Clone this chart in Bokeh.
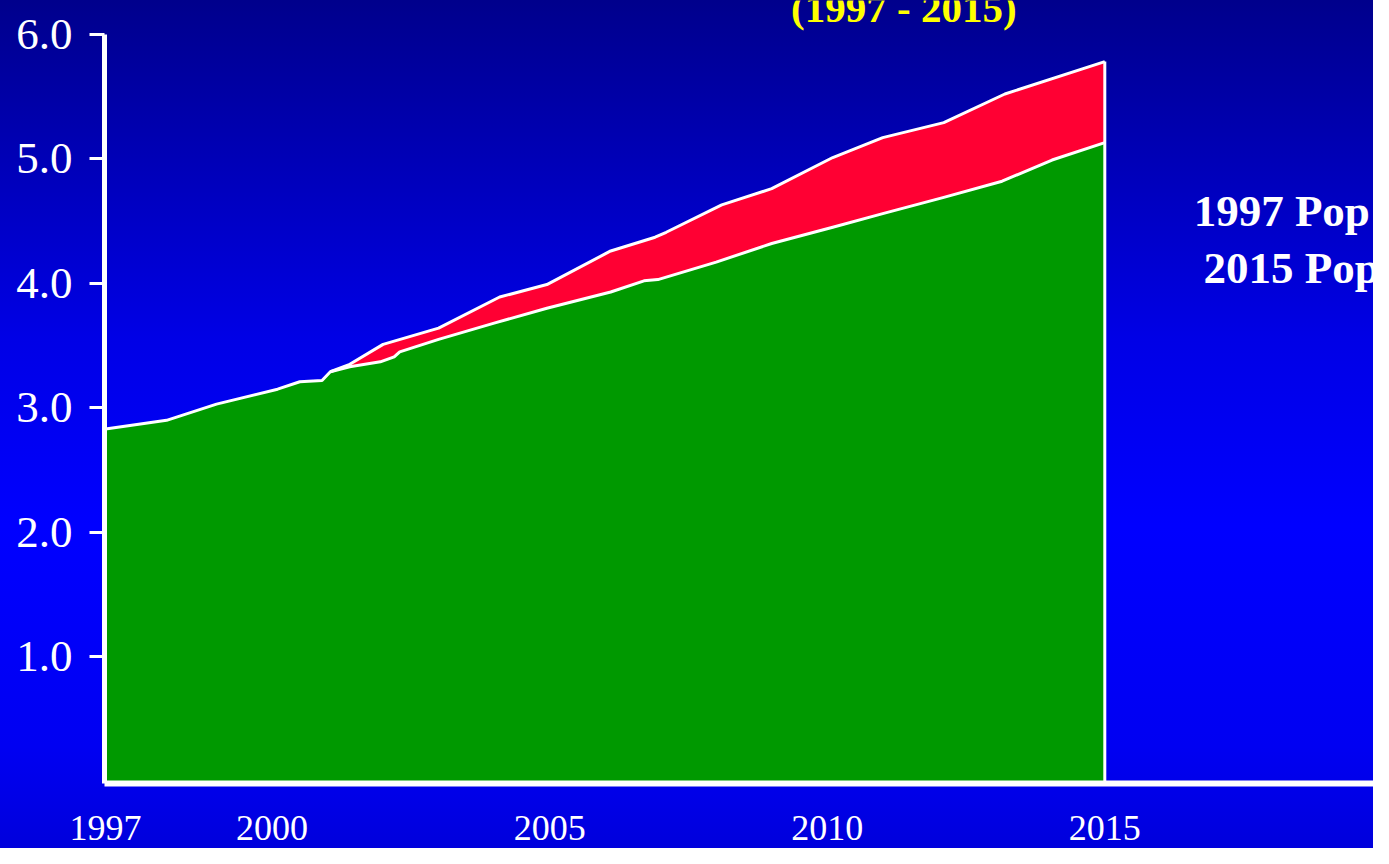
from bokeh.plotting import figure
from bokeh.models import Range1d, FixedTicker, PrintfTickFormatter, Label
from bokeh.embed import file_html
from bokeh.resources import INLINE

# ---- data ----
years_base = [1997, 1998.1, 1999.0, 2000.1, 2000.5, 2000.9, 2001.05, 2001.4, 2001.95,
              2002.2, 2002.3, 2003.0, 2004.0, 2004.95, 2006.1, 2006.7, 2006.95, 2008.0,
              2009.0, 2010.1, 2011.0, 2012.1, 2013.15, 2014.05, 2015.0]
pop_base = [2.83, 2.90, 3.03, 3.15, 3.21, 3.22, 3.29, 3.33, 3.37,
            3.41, 3.45, 3.55, 3.68, 3.80, 3.93, 4.02, 4.03, 4.17,
            4.32, 4.45, 4.56, 4.69, 4.82, 4.99, 5.13]

years_total = [2001.05, 2001.4, 2002.0, 2003.0, 2004.1, 2004.95, 2006.1, 2006.9, 2007.1,
               2008.1, 2009.0, 2010.1, 2011.0, 2012.1, 2013.2, 2015.0]
pop_total = [3.29, 3.35, 3.51, 3.64, 3.89, 3.99, 4.26, 4.37, 4.41,
             4.63, 4.76, 5.01, 5.17, 5.29, 5.52, 5.78]

x_ticks = [1997, 2000, 2005, 2010, 2015]
y_ticks = [1, 2, 3, 4, 5, 6]
title_text = "(1997 - 2015)"
side_lines = ["1997 Pop", "2015 Pop"]

GREEN = "#009900"
RED = "#FF0033"
WHITE = "#FFFFFF"
YELLOW = "#FFFF00"
SERIF = "Liberation Serif"

W, H = 1373, 848
p = figure(width=W, height=H, output_backend="svg", toolbar_location=None,
           x_range=Range1d(1996.982, 2019.84), y_range=Range1d(-0.0157, 6.2707),
           min_border_left=104, min_border_right=0, min_border_top=0,
           min_border_bottom=65)
p.styles = {"background": "linear-gradient(180deg, #00008C 0%, #0000BE 22%, #0000E6 40%, "
                          "#0000FF 62%, #0000F2 88%, #0000DC 100%)"}
p.border_fill_color = None
p.background_fill_color = None
p.outline_line_color = None
p.grid.visible = False

# areas
p.varea(x=years_total, y1=0, y2=pop_total, fill_color=RED)
p.varea(x=years_base, y1=0, y2=pop_base, fill_color=GREEN)
# white outlines
p.line(years_base, pop_base, line_color=WHITE, line_width=3, line_join="round")
p.line(years_total, pop_total, line_color=WHITE, line_width=3, line_join="round")
p.segment(x0=[years_total[-1]], y0=[0], x1=[years_total[-1]], y1=[pop_total[-1]],
          line_color=WHITE, line_width=3)

# axes
ya = p.yaxis[0]
ya.ticker = FixedTicker(ticks=y_ticks)
ya.formatter = PrintfTickFormatter(format="%.1f")
ya.bounds = (-0.0157, 6)
ya.axis_line_color = WHITE
ya.axis_line_width = 5
ya.major_tick_line_color = WHITE
ya.major_tick_line_width = 3
ya.major_tick_out = 15
ya.major_tick_in = 0
ya.minor_tick_line_color = None
ya.major_label_standoff = 17
ya.major_label_text_color = WHITE
ya.major_label_text_font = SERIF
ya.major_label_text_font_size = "45px"
ya.major_label_text_baseline = "alphabetic"

xa = p.xaxis[0]
xa.ticker = FixedTicker(ticks=x_ticks)
xa.axis_line_color = WHITE
xa.axis_line_width = 6
xa.major_tick_line_color = None
xa.major_tick_out = 0
xa.major_tick_in = 0
xa.minor_tick_line_color = None
xa.major_label_standoff = 32
xa.major_label_text_color = WHITE
xa.major_label_text_font = SERIF
xa.major_label_text_font_size = "36px"

# texts
p.add_layout(Label(x=2011.38, y=6.211, text=title_text, text_color=YELLOW,
                   text_font=SERIF, text_font_style="bold", text_font_size="41px",
                   text_align="center", text_baseline="middle"))
p.add_layout(Label(x=2016.60, y=4.583, text=side_lines[0], text_color=WHITE,
                   text_font=SERIF, text_font_style="bold", text_font_size="45px",
                   text_align="left", text_baseline="middle"))
p.add_layout(Label(x=2016.78, y=4.125, text=side_lines[1], text_color=WHITE,
                   text_font=SERIF, text_font_style="bold", text_font_size="45px",
                   text_align="left", text_baseline="middle"))

open("out.html", "w").write(file_html(p, INLINE))
